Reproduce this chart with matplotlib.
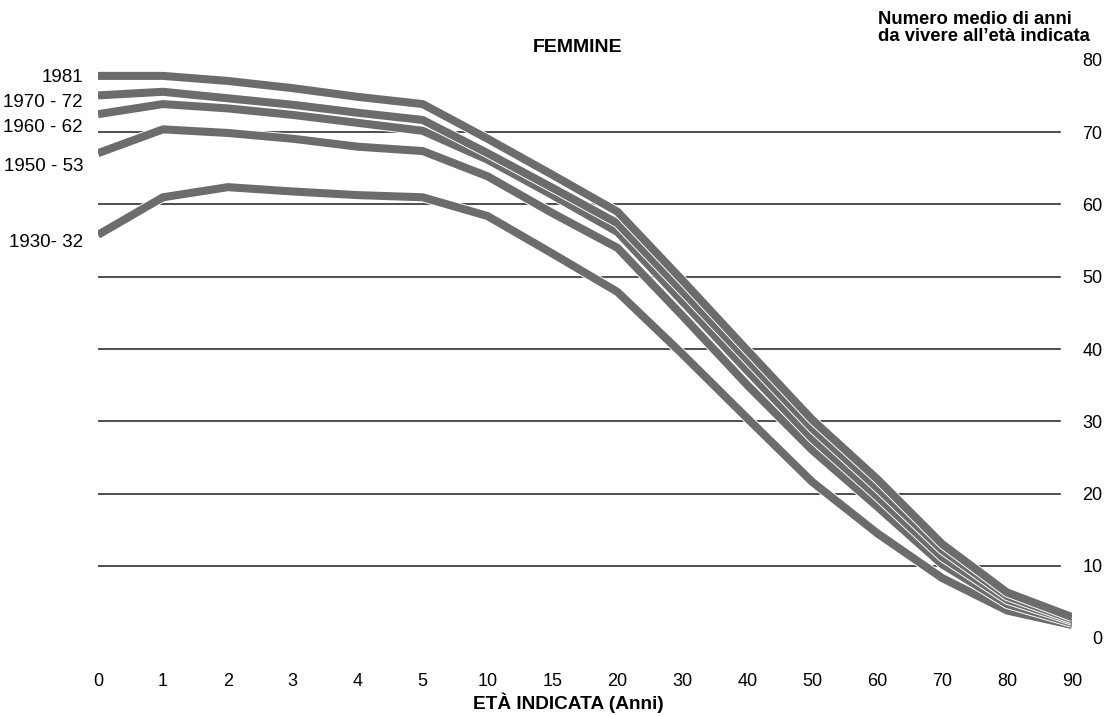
import matplotlib
matplotlib.use("Agg")
import matplotlib.pyplot as plt
import matplotlib.patheffects as pe

plt.rcParams['font.family'] = ['Liberation Sans Narrow', 'Liberation Sans', 'DejaVu Sans']

ages = ["0", "1", "2", "3", "4", "5", "10", "15", "20", "30", "40", "50", "60", "70", "80", "90"]

# average years left to live at the given age (female)
e_1981    = [77.8, 77.8, 77.1, 76.1, 74.9, 73.9, 69.1, 64.1, 59.0, 49.5, 39.8, 30.2, 22.0, 13.0, 6.3, 2.9]
e_1970_72 = [75.1, 75.6, 74.7, 73.8, 72.7, 71.7, 67.1, 62.3, 57.4, 48.0, 38.5, 29.0, 20.8, 12.2, 5.8, 2.6]
e_1960_62 = [72.5, 73.9, 73.3, 72.4, 71.3, 70.2, 66.2, 61.3, 56.2, 46.6, 37.0, 27.6, 19.6, 11.2, 5.3, 2.4]
e_1950_53 = [67.1, 70.4, 69.9, 69.1, 68.0, 67.4, 63.9, 58.8, 54.0, 44.6, 35.0, 26.0, 18.2, 10.2, 4.7, 2.1]
e_1930_32 = [55.8, 61.0, 62.4, 61.8, 61.3, 61.0, 58.4, 53.2, 47.9, 39.3, 30.4, 21.6, 14.5, 8.3, 3.8, 1.8]

series = [e_1981, e_1970_72, e_1960_62, e_1950_53, e_1930_32]
labels = ["1981", "1970 - 72", "1960 - 62", "1950 - 53", "1930- 32"]
label_y = [77.6, 74.1, 70.7, 65.2, 54.7]

yticks = [0, 10, 20, 30, 40, 50, 60, 70, 80]

fig = plt.figure(figsize=(11.1, 7.17), dpi=100)
ax = fig.add_axes([98 / 1110, 79 / 717, 974 / 1110, 578 / 717])

x = list(range(len(ages)))

# horizontal rules
for v in yticks[1:-1]:
    ax.plot([-0.05, 14.82], [v, v], color="#1e1e1e", lw=1.1, zorder=1)

# draw from the lowest curve up, each with a thin white edge
for s in reversed(series):
    ax.plot(x, s, color="#6c6c6c", lw=5.8, solid_capstyle="butt",
            solid_joinstyle="round", zorder=3,
            path_effects=[pe.Stroke(linewidth=7.2, foreground="white"), pe.Normal()])

for lab, yy in zip(labels, label_y):
    ax.text(-0.23, yy, lab, ha="right", va="center", fontsize=13.5)

ax.set_xlim(0, 15)
ax.set_ylim(0, 80)
ax.set_xticks(x)
ax.set_xticklabels(ages, fontsize=13)
ax.set_yticks(yticks)
ax.yaxis.tick_right()
ax.tick_params(axis="y", length=0, pad=22, labelsize=13)
ax.tick_params(axis="x", length=0, pad=25)
for t in ax.get_yticklabels():
    t.set_ha("right")
for sp in ax.spines.values():
    sp.set_visible(False)

ax.text(7.38, 81.7, "FEMMINE", ha="center", va="center", fontsize=14, fontweight="bold")
fig.text(878 / 1110, 1 - 28 / 717, "Numero medio di anni\nda vivere all\u2019età indicata",
         ha="left", va="center", fontsize=13.3, fontweight="bold", linespacing=1.0)
fig.text(568 / 1110, 1 - 703 / 717, "ETÀ INDICATA (Anni)", ha="center", va="center",
         fontsize=13.7, fontweight="bold")

fig.savefig("out.png", dpi=100)
